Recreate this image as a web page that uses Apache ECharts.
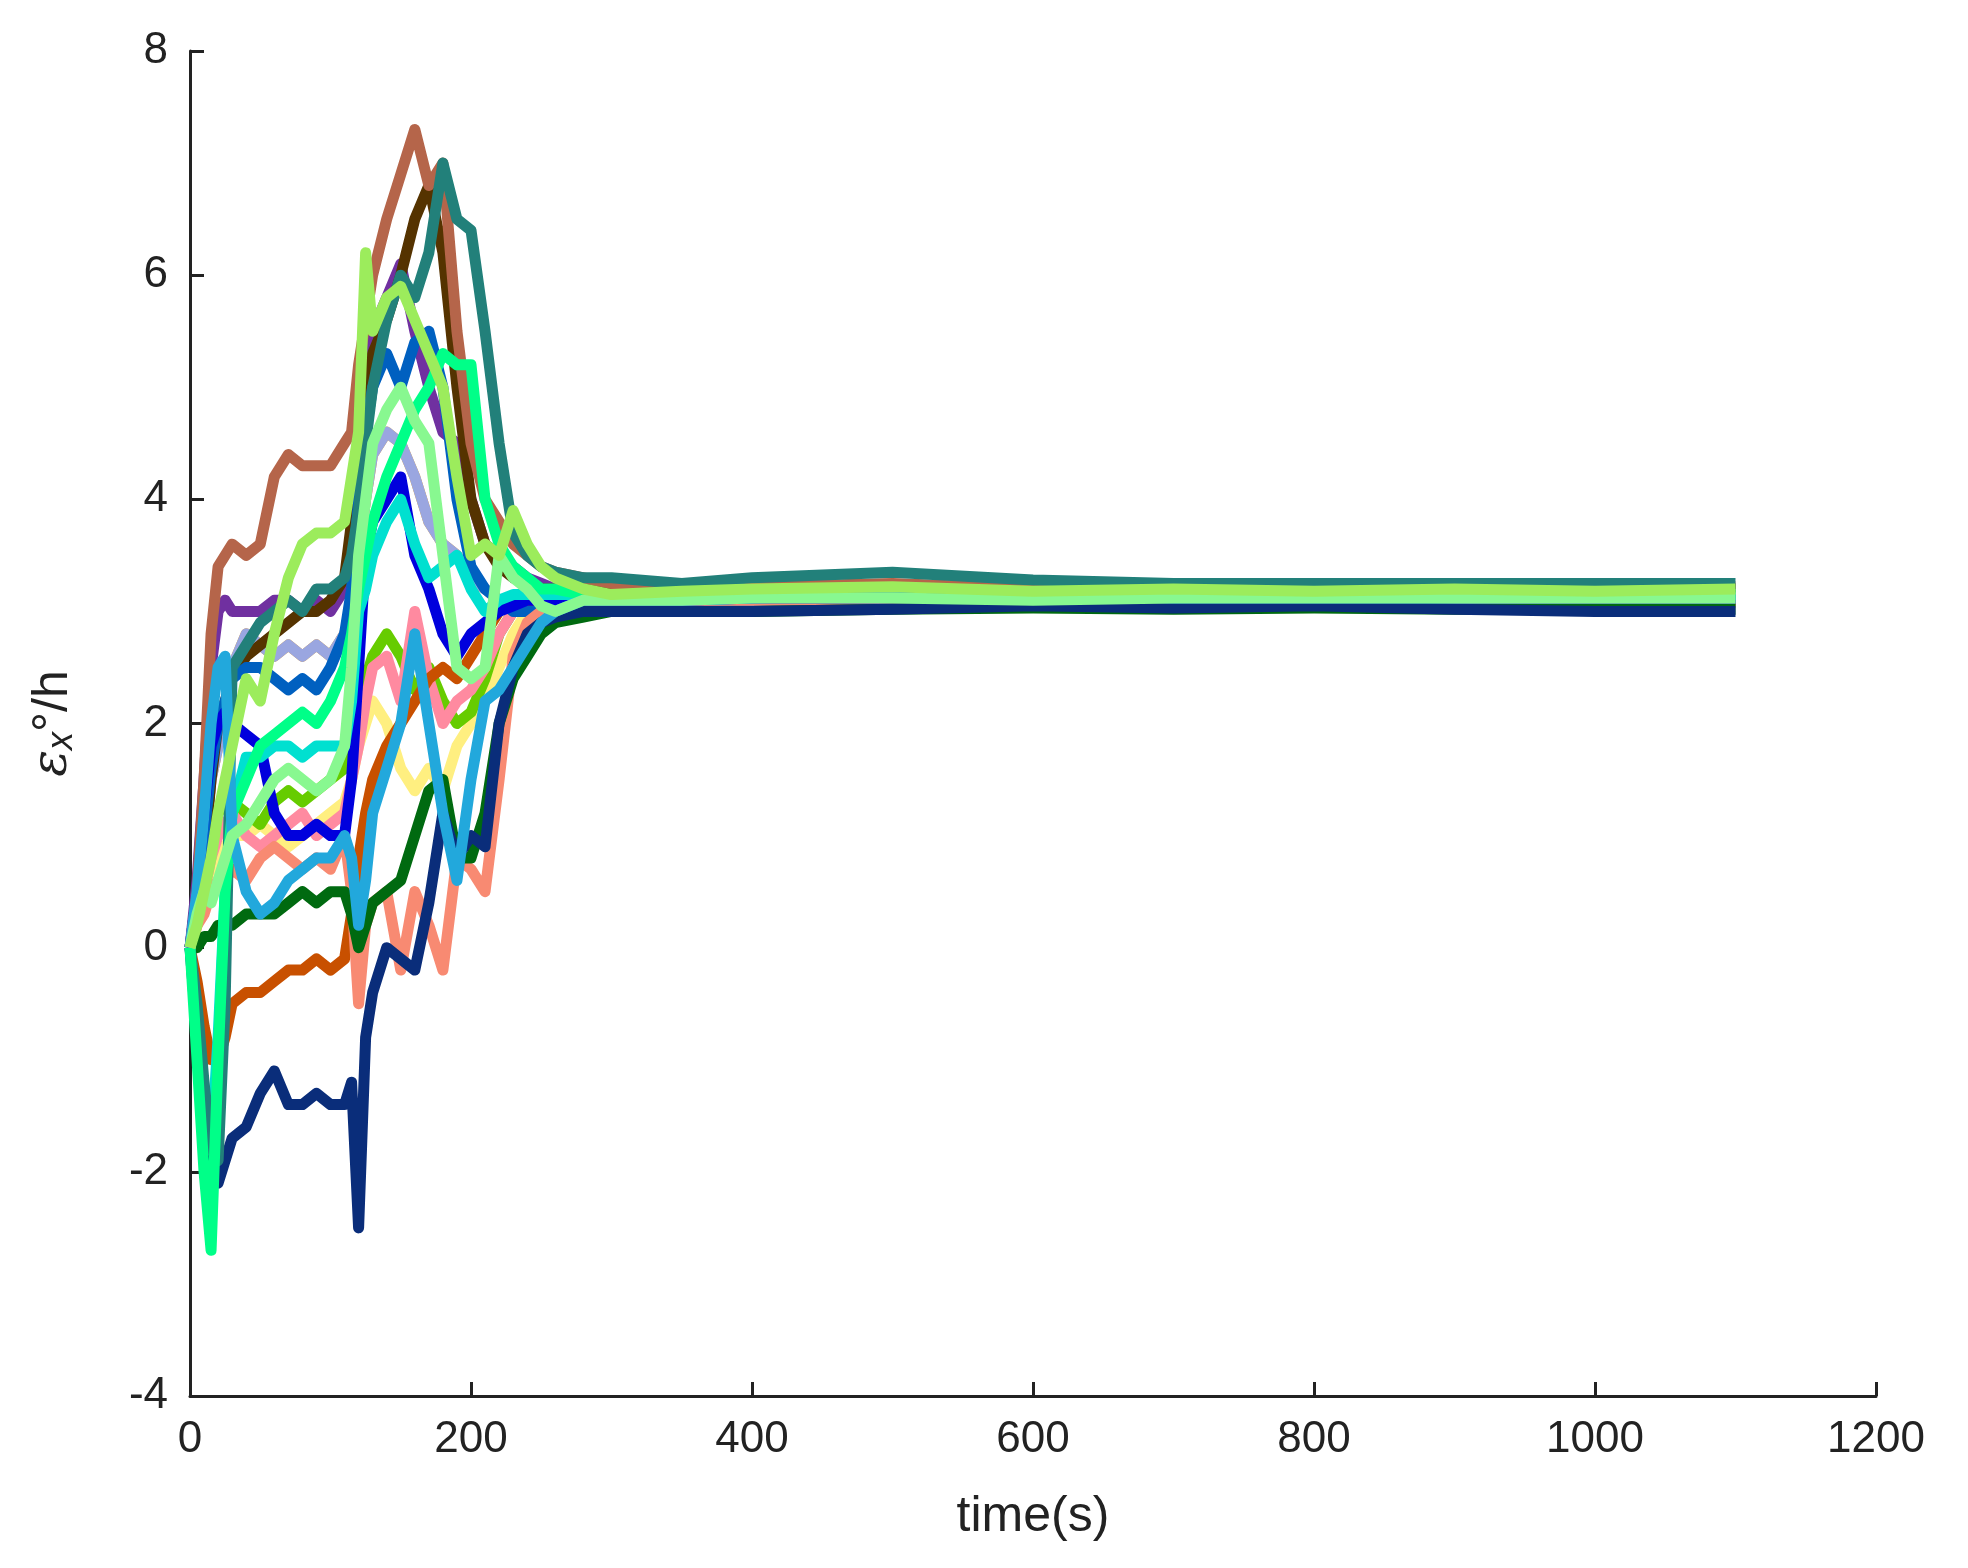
<!DOCTYPE html>
<html><head><meta charset="utf-8">
<script src="https://cdn.jsdelivr.net/npm/echarts@6/dist/echarts.min.js"></script>
<style>html,body{margin:0;background:#fff}#main{width:1968px;height:1568px}</style>
</head><body><div id="main"></div>
<script>
// shared time axis (s)
const times = [0,5,10,15,20,25,30,40,50,60,70,80,90,100,110,115,120,125,130,140,150,160,170,180,190,200,210,220,230,240,250,260,280,300,350,400,500,600,700,800,900,1000,1100];
const yTicks = [-4,-2,0,2,4,6,8];
const xTicks = [0,200,400,600,800,1000,1200];

const brown   = [0,0.5,1.5,2.8,3.4,3.5,3.6,3.5,3.6,4.2,4.4,4.3,4.3,4.3,4.5,4.6,5.2,5.6,6.0,6.5,6.9,7.3,6.8,7.0,5.5,4.5,4.0,3.8,3.6,3.5,3.4,3.35,3.3,3.25,3.2,3.22,3.25,3.2,3.22,3.2,3.22,3.2,3.22];
const navy    = [0,-0.8,-1.5,-2.0,-2.1,-1.9,-1.7,-1.6,-1.3,-1.1,-1.4,-1.4,-1.3,-1.4,-1.4,-1.2,-2.5,-0.8,-0.4,0.0,-0.1,-0.2,0.4,1.2,0.8,1.0,0.9,2.0,2.5,2.8,2.9,2.95,3.0,3.0,3.0,3.0,3.02,3.05,3.03,3.05,3.02,3.0,3.0];
const ltGreen = [0,0.2,0.5,0.8,1.2,1.5,1.8,2.4,2.2,2.8,3.3,3.6,3.7,3.7,3.8,4.2,4.6,6.2,5.5,5.8,5.9,5.6,5.3,5.0,4.2,3.5,3.6,3.5,3.9,3.6,3.4,3.3,3.2,3.15,3.18,3.2,3.22,3.18,3.2,3.18,3.2,3.18,3.2];
const teal    = [0,-0.5,-1.2,-1.8,-1.9,-0.5,2.5,2.7,2.9,3.0,3.1,3.0,3.2,3.2,3.3,3.5,3.9,4.5,5.0,5.6,6.0,5.8,6.2,7.0,6.5,6.4,5.5,4.5,3.7,3.5,3.4,3.35,3.3,3.3,3.25,3.3,3.35,3.28,3.25,3.25,3.25,3.25,3.25];
const spring  = [0,-1.0,-2.0,-2.7,-1.0,0.5,1.2,1.5,1.8,1.9,2.0,2.1,2.0,2.2,2.5,2.8,3.2,3.5,3.8,4.2,4.5,4.8,5.0,5.3,5.2,5.2,4.0,3.6,3.4,3.3,3.2,3.2,3.15,3.15,3.15,3.15,3.15,3.15,3.15,3.15,3.15,3.15,3.15];
const salmon  = [0,0.2,0.3,0.5,0.6,0.6,0.7,0.6,0.8,0.9,0.8,0.7,0.8,0.7,1.0,0.5,-0.5,0.2,0.4,0.5,-0.2,0.5,0.2,-0.2,0.8,0.7,0.5,1.5,2.6,2.9,3.0,3.05,3.1,3.1,3.1,3.1,3.1,3.08,3.1,3.1,3.08,3.1,3.08];
const rust    = [0,-0.3,-0.7,-1.0,-1.0,-0.8,-0.5,-0.4,-0.4,-0.3,-0.2,-0.2,-0.1,-0.2,-0.1,0.3,0.8,1.2,1.5,1.8,2.0,2.2,2.4,2.5,2.4,2.6,2.8,3.0,3.1,3.1,3.1,3.1,3.1,3.1,3.1,3.12,3.12,3.12,3.12,3.12,3.12,3.12,3.1];
const dkGreen = [0,0.0,0.1,0.1,0.2,0.2,0.2,0.3,0.3,0.3,0.4,0.5,0.4,0.5,0.5,0.3,0.0,0.2,0.4,0.5,0.6,1.0,1.4,1.5,0.8,0.8,1.2,2.0,2.4,2.6,2.8,2.9,2.95,3.0,3.0,3.0,3.02,3.03,3.02,3.03,3.02,3.02,3.02];
const sky     = [0,0.5,1.2,2.0,2.5,2.6,1.0,0.5,0.3,0.4,0.6,0.7,0.8,0.8,1.0,0.8,0.2,0.6,1.2,1.6,2.0,2.8,2.0,1.2,0.6,1.5,2.2,2.3,2.5,2.7,2.9,3.0,3.1,3.1,3.1,3.12,3.15,3.15,3.12,3.12,3.12,3.12,3.12];
const mint    = [0,0.3,0.5,0.4,0.6,0.8,1.0,1.1,1.3,1.5,1.6,1.5,1.4,1.5,1.8,2.5,3.5,4.0,4.5,4.8,5.0,4.7,4.5,3.5,2.5,2.4,2.5,3.5,3.3,3.2,3.05,3.0,3.1,3.1,3.1,3.12,3.12,3.1,3.12,3.12,3.12,3.12,3.12];
const blue    = [0,0.5,1.2,1.8,2.0,2.1,2.0,1.9,1.8,1.2,1.0,1.0,1.1,1.0,1.0,1.5,2.5,3.5,3.8,4.0,4.2,3.5,3.2,2.8,2.6,2.8,2.9,3.0,3.05,3.1,3.1,3.1,3.1,3.1,3.1,3.12,3.12,3.12,3.12,3.12,3.12,3.12,3.12];
const cyan    = [0,-0.6,-1.5,-1.8,-0.8,0.5,1.2,1.7,1.7,1.8,1.8,1.7,1.8,1.8,1.8,2.2,3.0,3.2,3.5,3.8,4.0,3.6,3.3,3.4,3.5,3.2,3.0,3.1,3.15,3.15,3.15,3.15,3.15,3.15,3.15,3.15,3.15,3.15,3.15,3.15,3.15,3.15,3.15];
const purple  = [0,0.6,1.5,2.5,3.0,3.1,3.0,3.0,3.0,3.1,3.1,3.0,3.1,3.0,3.2,3.5,4.2,5.0,5.5,5.8,6.1,5.5,5.0,4.6,4.5,4.0,3.6,3.5,3.4,3.3,3.25,3.2,3.2,3.2,3.2,3.2,3.2,3.2,3.2,3.2,3.2,3.2,3.2];
const olive   = [0,0.3,0.8,1.5,2.0,2.2,2.4,2.6,2.7,2.8,2.9,3.0,3.0,3.1,3.3,3.8,4.5,5.0,5.3,5.6,6.0,6.5,6.8,6.2,5.0,4.0,3.6,3.4,3.3,3.25,3.2,3.2,3.2,3.2,3.2,3.2,3.2,3.2,3.2,3.2,3.2,3.2,3.2];
const midBlue = [0,0.4,1.0,1.6,2.0,2.2,2.4,2.5,2.5,2.4,2.3,2.4,2.3,2.5,2.8,3.2,4.0,4.6,5.0,5.3,5.0,5.4,5.5,5.0,4.0,3.4,3.2,3.1,3.0,3.0,3.05,3.05,3.1,3.1,3.1,3.1,3.1,3.1,3.1,3.1,3.1,3.1,3.1];
const yellow  = [0,0.2,0.4,0.6,0.8,0.9,1.0,1.0,1.1,1.0,0.9,1.0,1.1,1.2,1.3,1.5,1.8,2.0,2.2,2.0,1.6,1.4,1.6,1.4,1.8,2.0,2.2,2.5,2.8,3.0,3.05,3.1,3.1,3.1,3.1,3.1,3.1,3.1,3.1,3.1,3.1,3.1,3.1];
const lime    = [0,0.3,0.6,1.0,1.2,1.3,1.3,1.2,1.1,1.3,1.4,1.3,1.4,1.5,1.6,1.8,2.0,2.4,2.6,2.8,2.6,2.3,2.5,2.2,2.0,2.1,2.4,2.8,3.0,3.1,3.1,3.1,3.1,3.1,3.1,3.1,3.1,3.1,3.1,3.1,3.1,3.1,3.1];
const pink    = [0,0.2,0.5,0.8,1.0,1.1,1.2,1.0,0.9,1.0,1.1,1.2,1.0,1.1,1.2,1.5,1.8,2.2,2.5,2.6,2.2,3.0,2.4,2.0,2.2,2.3,2.5,2.8,3.0,3.1,3.1,3.1,3.1,3.1,3.1,3.1,3.1,3.1,3.1,3.1,3.1,3.1,3.1];
const lavender= [0,0.4,0.9,1.5,1.8,2.0,2.5,2.8,2.7,2.6,2.7,2.6,2.7,2.6,2.8,3.0,3.5,4.0,4.4,4.6,4.5,4.2,3.8,3.6,3.5,3.3,3.2,3.1,3.1,3.1,3.1,3.1,3.1,3.1,3.1,3.1,3.1,3.1,3.1,3.1,3.1,3.1,3.1];

const series = [
  ['#f5a623',lavender],['#ffef80',yellow],['#66cc00',lime],['#ff8aa0',pink],['#9aa6e0',lavender],
  ['#7030a0',purple],['#553300',olive],['#0060c0',midBlue],['#c85000',rust],['#f88a72',salmon],
  ['#0000dd',blue],['#006a10',dkGreen],['#00e0d0',cyan],['#0a2d7a',navy],['#b5654a',brown],
  ['#22807a',teal],['#00ff88',spring],['#22a8dc',sky],['#88f890',mint],['#9cec5c',ltGreen]
];

const chart = echarts.init(document.getElementById('main'));
const font = 'Liberation Sans';
chart.setOption({
  animation:false,
  grid:{left:190,right:92,top:51,bottom:172},
  xAxis:{type:'value',min:0,max:1200,interval:200,
    axisLine:{onZero:false,lineStyle:{color:'#222',width:3}},axisTick:{inside:true,length:14,lineStyle:{color:'#222',width:3}},
    splitLine:{show:false},axisLabel:{color:'#222',fontSize:44,fontFamily:font,margin:22,formatter:v=>String(v)},
    name:'time(s)',nameLocation:'middle',nameGap:96,nameTextStyle:{color:'#222',fontSize:50,fontFamily:font}},
  yAxis:{type:'value',min:-4,max:8,interval:2,
    axisLine:{show:true,lineStyle:{color:'#222',width:3}},axisTick:{show:true,inside:true,length:14,lineStyle:{color:'#222',width:3}},
    splitLine:{show:false},axisLabel:{color:'#222',fontSize:44,fontFamily:font,margin:22},
    name:'{e|ε}{s|x}{d|°/h}',nameLocation:'middle',nameGap:110,
    nameTextStyle:{rich:{e:{fontSize:50,fontStyle:'italic',fontFamily:'DejaVu Serif',color:'#222'},
      s:{fontSize:36,fontFamily:font,fontStyle:'italic',color:'#222',verticalAlign:'bottom',padding:[18,0,0,0]},
      d:{fontSize:50,fontFamily:font,color:'#222'}}}},
  series: series.map(([c,d])=>({type:'line',showSymbol:false,lineStyle:{color:c,width:11,join:'round'},
    data:times.map((t,i)=>[t,d[i]])}))
});
</script></body></html>
